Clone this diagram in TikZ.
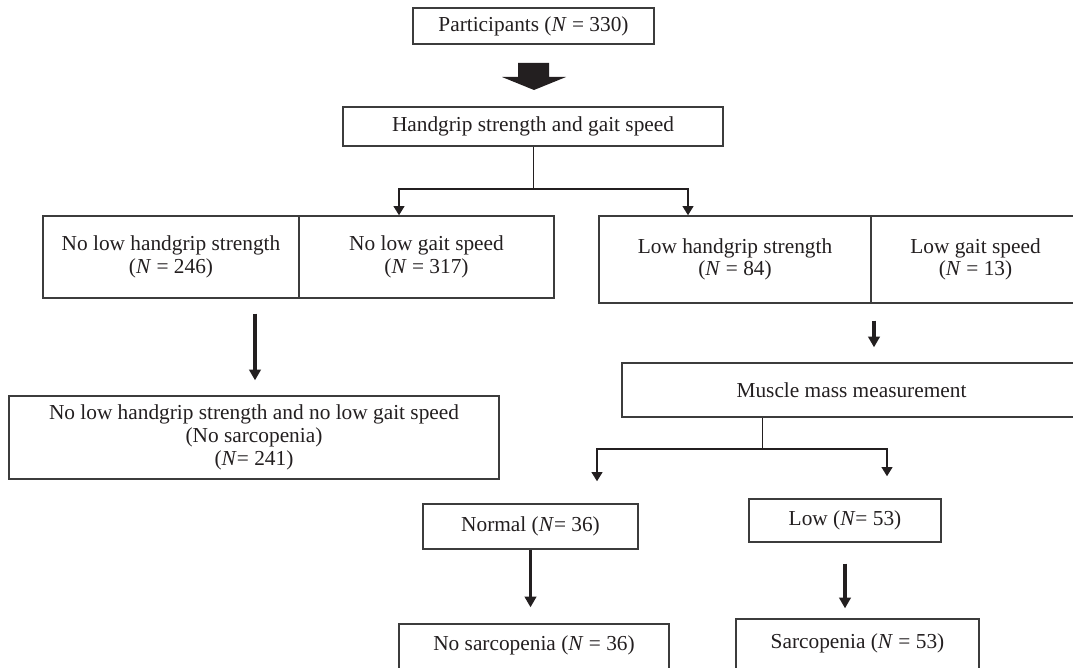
\documentclass[tikz,border=0pt]{standalone}
\usepackage{fontspec}
\setmainfont{Liberation Serif}
\usetikzlibrary{arrows.meta}
\definecolor{ink}{HTML}{231F20}
\definecolor{frame}{HTML}{3C3C3C}
\tikzset{
  box/.style={draw=frame, line width=1pt, inner sep=0pt, align=center, text=ink,
    font=\fontsize{16}{17}\selectfont},
  sz/.style 2 args={minimum width=#1*0.75pt, minimum height=#2*0.75pt},
  thinline/.style={draw=ink, line width=0.75pt},
  branch/.style={draw=ink, line width=2pt, {Triangle[width=8pt,length=7pt]}-{Triangle[width=8pt,length=7pt]}},
  bigarr/.style={draw=ink, line width=2.8pt, -{Triangle[width=8.5pt,length=8pt]}},
}
\begin{document}
\begin{tikzpicture}[x=0.75pt, y=-0.75pt]
\useasboundingbox (0,0) rectangle (1073,667);
\clip (0,0) rectangle (1073,667);
\fill[white] (0,0) rectangle (1073,667);

% nodes
\node[box, sz={241}{36}] (part) at (533.5,26) {Participants (\textit{N} = 330)};
\node[box, sz={380}{39}] (hgs) at (533,126.5) {Handgrip strength and gait speed};
\node[box, sz={256}{82}] (nlh) at (171,257) {No low handgrip strength\\(\textit{N} = 246)};
\node[box, sz={255}{82}] (nlg) at (426.5,257) {No low gait speed\\(\textit{N} = 317)};
\node[box, sz={272}{87}] (lh) at (735,259.5) {Low handgrip strength\\(\textit{N} = 84)};
\node[box, sz={209}{87}] (lg) at (975.5,259.5) {Low gait speed\\(\textit{N} = 13)};
\node[box, sz={490}{83}] (nosA) at (254,437.5) {No low handgrip strength and no low gait speed\\(No sarcopenia)\\(\textit{N}= 241)};
\node[box, sz={459}{54}] (mm) at (851.5,390) {Muscle mass measurement};
\node[box, sz={215}{45}] (norm) at (530.5,526.5) {Normal (\textit{N}= 36)};
\node[box, sz={192}{43}] (low) at (845,520.5) {Low (\textit{N}= 53)};
\node[box, sz={270}{60}] (nos) at (534,654) {\raisebox{6.75pt}[\height][\depth]{No sarcopenia (\textit{N} = 36)}};
\node[box, sz={243}{60}] (sarc) at (857.5,649) {\raisebox{4.5pt}[\height][\depth]{Sarcopenia (\textit{N} = 53)}};

% block arrow between participants and handgrip box
\fill[ink] (518,63) -- (549,63) -- (549,77) -- (566,77) -- (534,90) -- (502,77) -- (518,77) -- cycle;

% first split
\coordinate (j1) at (533,189);
\coordinate (bl) at (399,189);
\coordinate (br) at (688,189);
\draw[thinline] (hgs.south) -- (j1);
\draw[branch] (bl |- nlg.north) -- (bl) -- (br) -- (br |- lh.north);

% left arrow to no sarcopenia
\coordinate (xl) at (255,0);
\draw[bigarr, shorten <=11.25pt, shorten >=11.25pt] (nlh.south -| xl) -- (nosA.north -| xl);

% right arrow to muscle mass
\coordinate (xr) at (874,0);
\draw[bigarr, shorten <=12.75pt, shorten >=11.25pt] (lh.south -| xr) -- (mm.north -| xr);

% second split
\coordinate (m0) at (762,0);
\coordinate (j2) at (762,449);
\coordinate (cl) at (597,449);
\coordinate (cr) at (887,449);
\draw[thinline] (mm.south -| m0) -- (j2);
\draw[branch, shorten <=16.5pt, shorten >=16.5pt] (cl |- norm.north) -- (cl) -- (cr) -- (cr |- low.north);

% final arrows
\draw[bigarr, shorten >=12pt] (norm.south) -- (norm.south |- nos.north);
\draw[bigarr, shorten <=15.75pt, shorten >=7.5pt] (low.south) -- (low.south |- sarc.north);
\end{tikzpicture}
\end{document}
